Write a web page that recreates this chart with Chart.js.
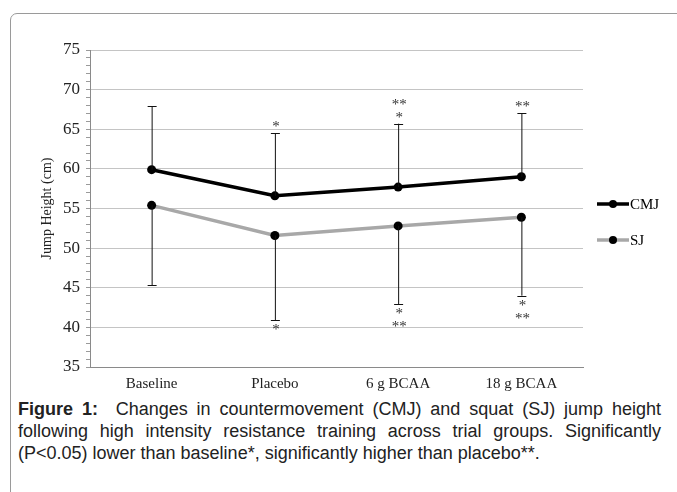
<!DOCTYPE html>
<html>
<head>
<meta charset="utf-8">
<script src="https://cdn.jsdelivr.net/npm/chart.js@4/dist/chart.umd.min.js"></script>
<style>
  html, body { margin:0; padding:0; background:#fff; width:677px; height:492px; overflow:hidden; }
  #frame { position:absolute; left:10px; top:13px; width:800px; height:600px; border:1px solid #9a9a9a; border-radius:7px; box-sizing:border-box; }
  #wrap { position:absolute; left:0; top:0; width:677px; height:395px; }
  #caption { position:absolute; left:18px; top:398px; width:643px; font-family:"Liberation Sans", Arial, sans-serif; font-size:18px; line-height:22px; color:#222; white-space:nowrap; }
  #caption .j { display:block; text-align:justify; text-align-last:justify; }
  #caption .l { display:block; text-align:left; }
</style>
</head>
<body>
<div id="frame"></div>
<div id="wrap"><canvas id="c"></canvas></div>
<div id="caption"><span class="j"><b>Figure 1:</b>&nbsp; Changes in countermovement (CMJ) and squat (SJ) jump height</span><span class="j">following high intensity resistance training across trial groups. Significantly</span><span class="l">(P&lt;0.05) lower than baseline*, significantly higher than placebo**.</span></div>
<script>
const categories = ["Baseline", "Placebo", "6 g BCAA", "18 g BCAA"];
const cmjValues = [59.9, 56.6, 57.7, 59.0];
const sjValues = [55.4, 51.6, 52.8, 53.9];
const cmjUpper = [67.9, 64.5, 65.7, 67.0];
const sjLower = [45.3, 40.9, 42.9, 44.0];
const cmjMarks = ["", "*", "*\n**", "**"];   // above CMJ error bars (bottom line first)
const sjMarks = ["", "*", "*\n**", "*\n**"];   // below SJ error bars (top line first)
const yTicks = [35, 40, 45, 50, 55, 60, 65, 70, 75];

const serif = '"Liberation Serif", "Times New Roman", serif';

const extras = {
  id: 'extras',
  afterDatasetsDraw(chart) {
    const ctx = chart.ctx;
    const x = chart.scales.x, y = chart.scales.y;
    ctx.save();
    ctx.strokeStyle = '#111';
    ctx.lineWidth = 1;
    const cap = 4;
    categories.forEach((c, i) => {
      const px = x.getPixelForValue(i);
      let y0 = y.getPixelForValue(cmjValues[i]), y1 = y.getPixelForValue(cmjUpper[i]);
      ctx.beginPath(); ctx.moveTo(px + 0.5, y0); ctx.lineTo(px + 0.5, y1);
      ctx.moveTo(px - cap, Math.round(y1) + 0.5); ctx.lineTo(px + cap + 1, Math.round(y1) + 0.5); ctx.stroke();
      y0 = y.getPixelForValue(sjValues[i]); y1 = y.getPixelForValue(sjLower[i]);
      ctx.beginPath(); ctx.moveTo(px + 0.5, y0); ctx.lineTo(px + 0.5, y1);
      ctx.moveTo(px - cap, Math.round(y1) + 0.5); ctx.lineTo(px + cap + 1, Math.round(y1) + 0.5); ctx.stroke();
      ctx.fillStyle = '#333';
      ctx.font = '15px ' + serif;
      ctx.textAlign = 'center';
      ctx.textBaseline = 'middle';
      const up = cmjMarks[i] ? cmjMarks[i].split('\n') : [];
      up.forEach((t, k) => {
        ctx.fillText(t, px + 1, y.getPixelForValue(cmjUpper[i]) - 6 - k * 13);
      });
      const dn = sjMarks[i] ? sjMarks[i].split('\n') : [];
      dn.forEach((t, k) => {
        ctx.fillText(t, px + 1, y.getPixelForValue(sjLower[i]) + 10 + k * 13);
      });
    });
    const items = [
      { label: 'CMJ', color: '#000', yy: 204 },
      { label: 'SJ', color: '#a8a8a8', yy: 240 }
    ];
    items.forEach(it => {
      ctx.strokeStyle = it.color; ctx.lineWidth = 3.5;
      ctx.beginPath(); ctx.moveTo(597, it.yy); ctx.lineTo(629, it.yy); ctx.stroke();
      ctx.fillStyle = '#000';
      ctx.beginPath(); ctx.arc(613, it.yy, 4, 0, Math.PI * 2); ctx.fill();
      ctx.font = '15px ' + serif; ctx.textAlign = 'left'; ctx.textBaseline = 'middle';
      ctx.fillText(it.label, 630, it.yy + 1);
    });
    ctx.restore();
  }
};

new Chart(document.getElementById('c'), {
  type: 'line',
  data: {
    labels: categories,
    datasets: [
      { label: 'CMJ', data: cmjValues, borderColor: '#000', borderWidth: 3.5, pointRadius: 4.5, pointBackgroundColor: '#000', pointBorderColor: '#000', pointBorderWidth: 0, tension: 0 },
      { label: 'SJ', data: sjValues, borderColor: '#a8a8a8', borderWidth: 3.5, pointRadius: 4.5, pointBackgroundColor: '#000', pointBorderColor: '#000', pointBorderWidth: 0, tension: 0 }
    ]
  },
  options: {
    responsive: true,
    maintainAspectRatio: false,
    animation: false,
    devicePixelRatio: 1,
    layout: { padding: { left: 39, right: 94, top: 50, bottom: 0 } },
    plugins: { legend: { display: false }, tooltip: { enabled: false } },
    scales: {
      x: {
        offset: true,
        grid: { display: false, drawTicks: false },
        border: { display: true, color: '#8a8a8a', width: 1 },
        ticks: { color: '#222', font: { family: serif, size: 15 }, padding: 8, maxRotation: 0 },
        afterFit(s) { s.height = 28; }
      },
      y: {
        min: 35, max: 75,
        grid: {
          color: ctx => (ctx.tick && ctx.tick.value % 5 === 0) ? '#c4c4c4' : 'rgba(0,0,0,0)',
          tickColor: '#9a9a9a', tickLength: 4, lineWidth: 1
        },
        border: { display: true, color: '#8a8a8a', width: 1 },
        ticks: {
          stepSize: 1, autoSkip: false, color: '#222', padding: 6,
          font: { family: serif, size: 17 },
          callback: v => yTicks.includes(v) ? String(v) : ''
        },
        title: { display: true, text: 'Jump Height (cm)', color: '#222', font: { family: serif, size: 14 }, padding: { top: 0, bottom: 2 } },
        afterFit(s) { s.width = 51; }
      }
    }
  },
  plugins: [extras]
});
</script>
</body>
</html>
